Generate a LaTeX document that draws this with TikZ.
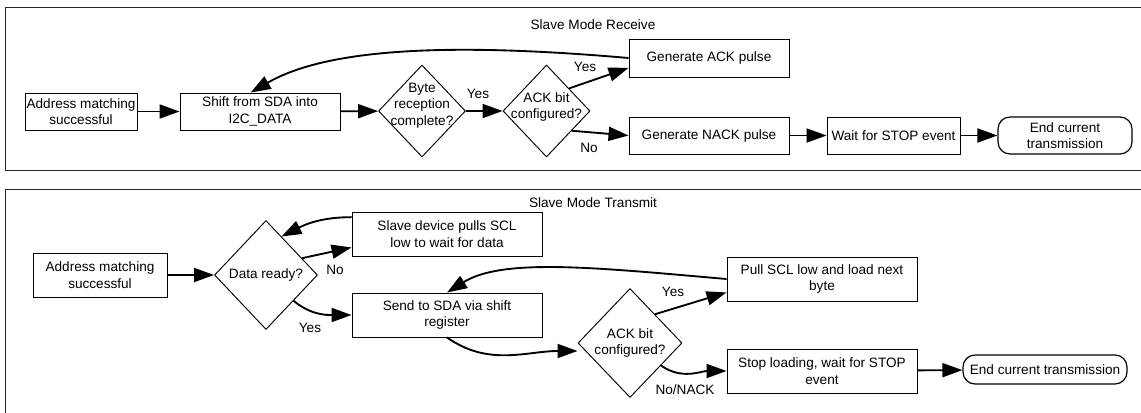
\documentclass[tikz,border=0pt]{standalone}
\usepackage{fontspec}
\setmainfont{Liberation Sans}
\usetikzlibrary{shapes.geometric,arrows.meta}

\tikzset{
  every picture/.append style={x=0.75pt,y=0.75pt},
  every node/.style={font=\fontsize{10.2}{12.3}\selectfont, align=center, inner sep=1pt},
  frame/.style={line width=0.7pt, draw=black!85},
  box/.style={draw, line width=0.7pt, minimum height=27.75pt},
  endbox/.style={draw, line width=0.9pt, rounded corners=9pt},
  decision/.style={draw, diamond, line width=0.7pt, inner sep=0pt},
  flow/.style={line width=1.4pt, -{Triangle[length=15pt,width=10.5pt]}},
}

\begin{document}
\begin{tikzpicture}
  \useasboundingbox (0,0) rectangle (1141,-412);
  \draw[frame] (1141,-7) -- (5,-7) -- (5,-170) -- (1141,-170);
  \draw[frame] (1141,-189) -- (5,-189) -- (5,-414);

  % slave receive
  \node (rxtitle) at (593,-25) {Slave Mode Receive};
  \node[box, minimum width=84pt] (rxaddr) at (81,-111.5) {Address matching\\successful};
  \node[box, minimum width=120pt] (rxshift) at (260,-111.5) {Shift from SDA into\\I2C\_DATA};
  \node[decision, minimum width=65.25pt, minimum height=69pt] (rxbyte) at (422,-111) {};
  \node (rxbytetext) at ([yshift=4pt]rxbyte) {Byte\\reception\\complete?};
  \node[decision, minimum width=65.25pt, minimum height=69pt] (rxack) at (546.5,-111) {};
  \node (rxacktext) at ([yshift=3pt]rxack) {ACK bit\\configured?};
  \node[box, minimum width=120pt, minimum height=28.5pt] (rxgenack) at (709,-58) {Generate ACK pulse};
  \node[box, minimum width=120pt] (rxgennack) at (709,-135.5) {Generate NACK pulse};
  \node[box, minimum width=99.75pt] (rxwait) at (893.5,-135.5) {Wait for STOP event};
  \node[endbox, minimum width=100.5pt, minimum height=27.75pt] (rxend) at (1065,-135.5) {End current\\transmission};

  \draw[flow] (rxaddr) -- (rxshift);
  \draw[flow] (rxshift) -- (rxbyte);
  \draw[flow] (rxbyte) -- (rxack);
  \draw[flow] (rxack.45) -- (rxgenack.187);
  \draw[flow] (rxack.-38) -- (rxgennack.west);
  \draw[flow] (rxgennack) -- (rxwait);
  \draw[flow] (rxwait) -- (rxend);
  \draw[flow] (rxgenack.west) to[out=175, in=30, out looseness=1.2, in looseness=0.6] ([xshift=-7pt]rxshift.north);
  \node (rxyes1) at (478,-94) {Yes};
  \node (rxyes2) at (585,-67) {Yes};
  \node (rxno) at (589,-148) {No};

  % slave transmit
  \node (txtitle) at (593,-203) {Slave Mode Transmit};
  \node[box, minimum width=100.5pt, minimum height=33pt] (txaddr) at (100,-275) {Address matching\\successful};
  \node[decision, minimum width=77.25pt, minimum height=81.75pt] (txready) at (266,-275) {};
  \node (txreadytext) at (txready) {Data ready?};
  \node[box, minimum width=142.5pt, minimum height=33pt] (txpull) at (447,-234) {Slave device pulls SCL\\low to wait for data};
  \node[box, minimum width=142.5pt, minimum height=33pt] (txsend) at (447,-315) {Send to SDA via shift\\register};
  \node[decision, minimum width=78pt, minimum height=81.75pt] (txack) at (630,-343) {};
  \node (txacktext) at (txack) {ACK bit\\configured?};
  \node[box, minimum width=142.5pt, minimum height=33pt] (txnext) at (822,-279) {Pull SCL low and load next\\byte};
  \node[box, minimum width=142.5pt, minimum height=33pt] (txstop) at (822,-371) {Stop loading, wait for STOP\\event};
  \node[endbox, minimum width=123pt, minimum height=21.75pt] (txend) at (1045,-369.5) {End current transmission};

  \draw[flow] (txaddr) -- (txready);
  \draw[flow] (txready.25) -- (txpull.188);
  \draw[flow] (txpull.170) to[out=180, in=27] (txready.68);
  \draw[flow] (txready.-43) to[out=-40, in=180] (txsend.west);
  \draw[flow] (txnext.west) to[out=175, in=32, out looseness=1.2, in looseness=0.6] (txsend.north);
  \draw[flow] (txsend.south) to[out=-35, in=180] ([yshift=-6pt]txack.west);
  \draw[flow] (txack.49) -- (txnext.188);
  \draw[flow] (txack.-36) to[out=-35, in=180] (txstop.west);
  \draw[flow] (txstop) -- (txend);
  \node (txno) at (335,-270) {No};
  \node (txyes1) at (310,-328) {Yes};
  \node (txyes2) at (673,-292) {Yes};
  \node (txnack) at (685,-390) {No/NACK};
\end{tikzpicture}
\end{document}
